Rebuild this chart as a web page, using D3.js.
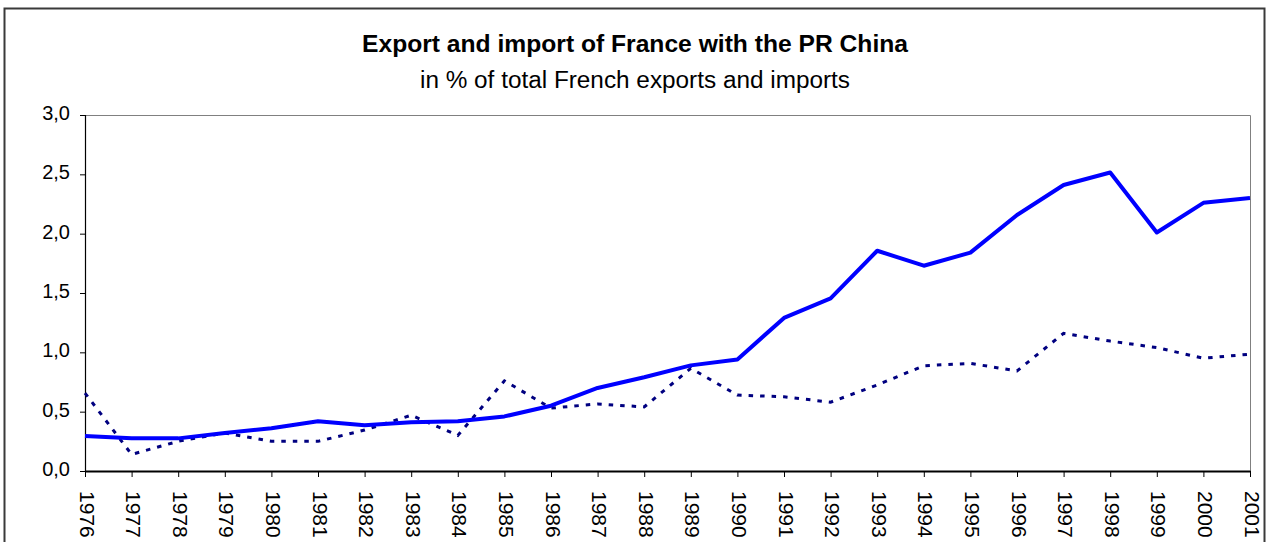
<!DOCTYPE html>
<html>
<head>
<meta charset="utf-8">
<script src="https://cdn.jsdelivr.net/npm/d3@7"></script>
<style>
html,body{margin:0;padding:0;background:#fff;overflow:hidden;}
svg{display:block;font-family:"Liberation Sans",Arial,sans-serif;}
</style>
</head>
<body>
<svg id="chart" width="1269" height="542"></svg>
<script>
const years = [1976,1977,1978,1979,1980,1981,1982,1983,1984,1985,1986,1987,1988,1989,1990,1991,1992,1993,1994,1995,1996,1997,1998,1999,2000,2001];
const exportsShare = [0.295,0.275,0.275,0.32,0.36,0.42,0.385,0.41,0.42,0.46,0.55,0.70,0.79,0.89,0.94,1.29,1.455,1.856,1.73,1.84,2.157,2.41,2.515,2.01,2.26,2.30];
const importsShare = [0.657,0.14,0.25,0.32,0.25,0.25,0.345,0.47,0.30,0.76,0.53,0.565,0.54,0.865,0.64,0.625,0.58,0.725,0.887,0.907,0.843,1.16,1.095,1.04,0.95,0.985];
const yTicks = [0,0.5,1,1.5,2,2.5,3];
const titleText = "Export and import of France with the PR China";
const subtitleText = "in % of total French exports and imports";

const svg = d3.select("#chart");
const L = 85, R = 1250, T = 115, B = 471;

// outer frame
svg.append("rect").attr("x",4.5).attr("y",8.5).attr("width",1260).attr("height",600)
  .attr("fill","#fff").attr("stroke","#3a3a3a").attr("stroke-width",2);

svg.append("text").attr("x",635).attr("y",52).attr("text-anchor","middle")
  .attr("font-size",24).attr("font-weight","bold").attr("fill","#000")
  .attr("textLength",546).attr("lengthAdjust","spacingAndGlyphs").text(titleText);
svg.append("text").attr("x",635).attr("y",88).attr("text-anchor","middle")
  .attr("font-size",23.5).attr("fill","#000")
  .attr("textLength",430).attr("lengthAdjust","spacingAndGlyphs").text(subtitleText);

const x = d3.scalePoint().domain(years).range([L,R]);
const y = d3.scaleLinear().domain([0,3]).range([B,T]);

// plot area border (top/right)
svg.append("path").attr("d",`M${L},${T+0.5}H${R+0.5}V${B}`)
  .attr("fill","none").attr("stroke","#808080").attr("stroke-width",1);

// y axis
const yAxis = svg.append("g").attr("transform",`translate(${L},0)`)
  .call(d3.axisLeft(y).tickValues(yTicks).tickSize(5).tickPadding(10)
    .tickFormat(d=>d3.format(".1f")(d).replace(".",",")));
yAxis.select(".domain").attr("stroke","#000").attr("stroke-width",1.2);
yAxis.selectAll(".tick line").attr("stroke","#000");
yAxis.selectAll("text").attr("font-size",20).attr("fill","#000")
  .attr("font-family","Liberation Sans, Arial, sans-serif")
  .attr("dy","0.22em");

// x axis
const xAxis = svg.append("g").attr("transform",`translate(0,${B})`)
  .call(d3.axisBottom(x).tickSize(6).tickSizeOuter(0).tickFormat(d=>String(d)));
xAxis.select(".domain").attr("stroke","#000").attr("stroke-width",2.2);
xAxis.selectAll(".tick line").attr("stroke","#000");
xAxis.selectAll("text").attr("font-size",21).attr("fill","#000")
  .attr("font-family","Liberation Sans, Arial, sans-serif")
  .attr("text-anchor","start").attr("dy",null)
  .attr("y",0).attr("x",0)
  .attr("dominant-baseline","central")
  .attr("transform","translate(1.5,20) rotate(90)");

const line = d3.line().x((d,i)=>x(years[i])).y(d=>y(d));

svg.append("path").datum(importsShare).attr("d",line)
  .attr("fill","none").attr("stroke","#000080").attr("stroke-width",3)
  .attr("stroke-dasharray","4.5,7");

svg.append("path").datum(exportsShare).attr("d",line)
  .attr("fill","none").attr("stroke","#0000ff").attr("stroke-width",4)
  .attr("stroke-linejoin","round");
</script>
</body>
</html>
